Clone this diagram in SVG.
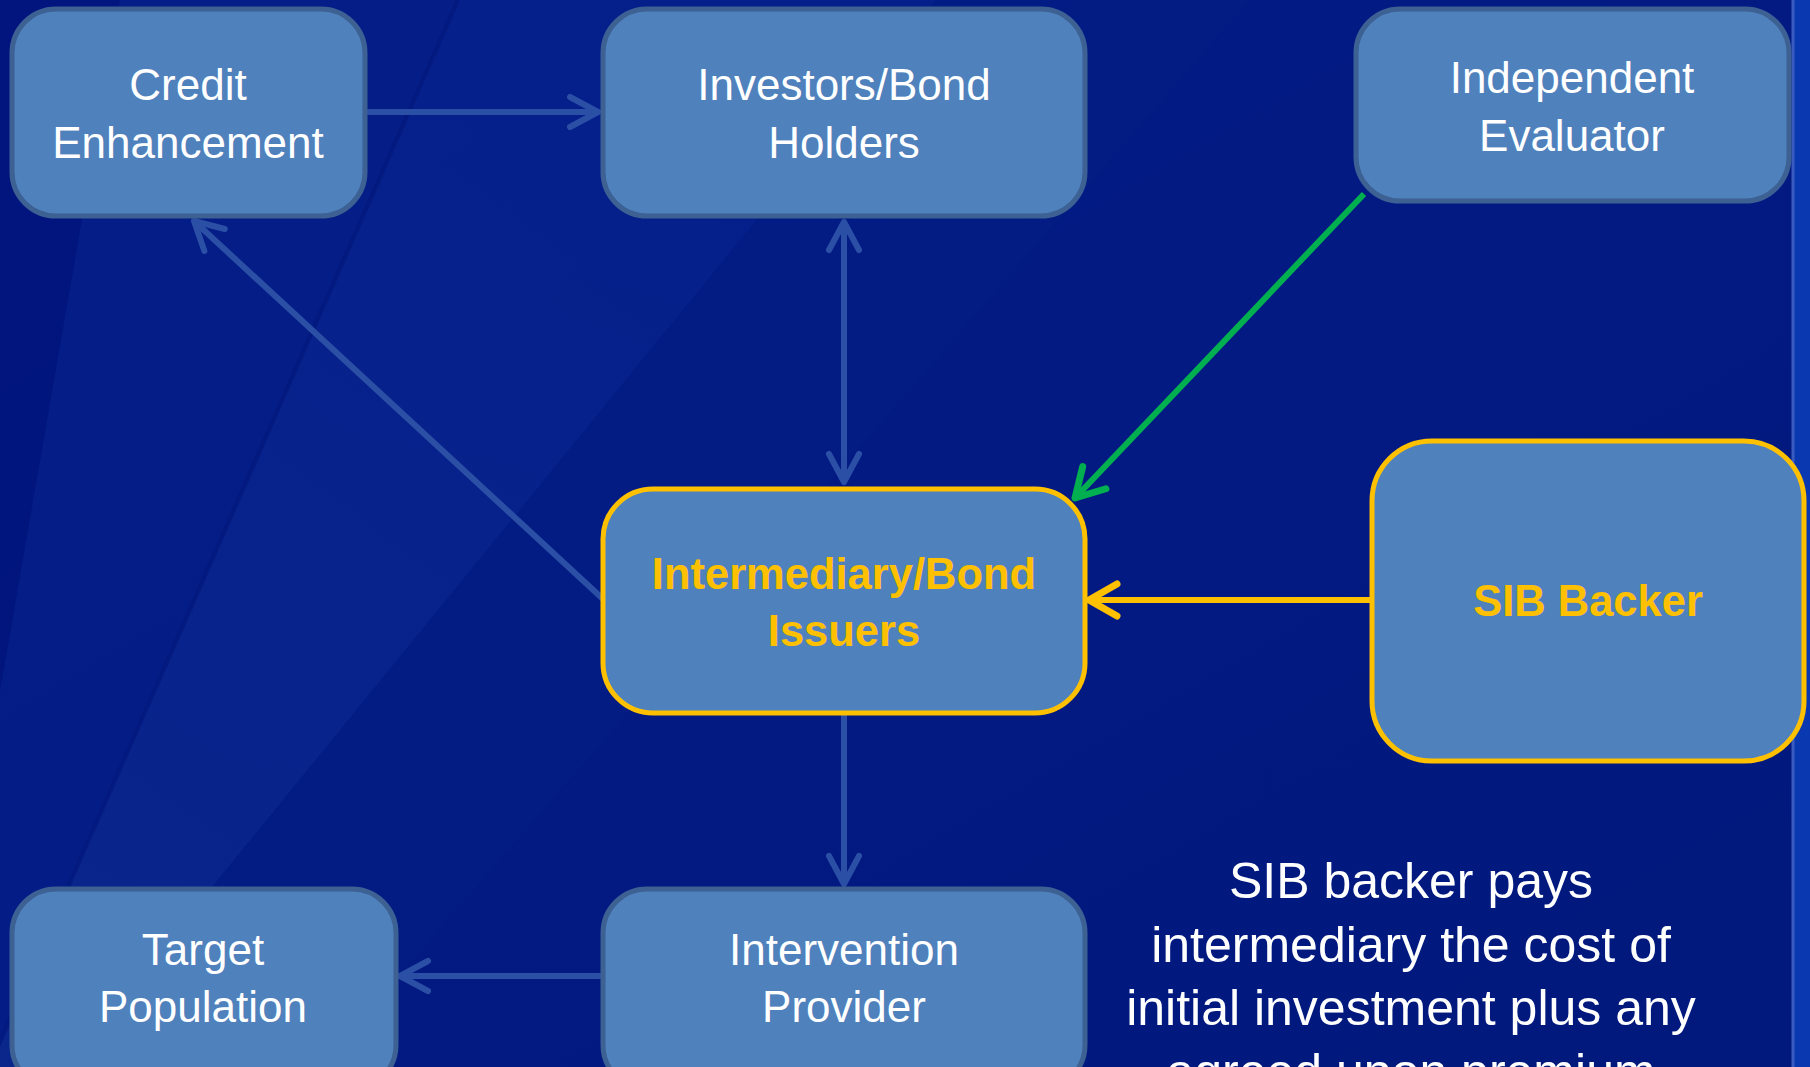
<svg xmlns="http://www.w3.org/2000/svg" width="1810" height="1067" viewBox="0 0 1810 1067">
  <defs>
    <linearGradient id="bg" x1="0" y1="0" x2="1" y2="1">
      <stop offset="0" stop-color="#031a86"/>
      <stop offset="0.5" stop-color="#021a82"/>
      <stop offset="1" stop-color="#01187c"/>
    </linearGradient>
    <linearGradient id="band" x1="0" y1="1" x2="0.6" y2="0">
      <stop offset="0" stop-color="#0c2a8e" stop-opacity="0.8"/>
      <stop offset="1" stop-color="#0a2794" stop-opacity="0.4"/>
    </linearGradient>
    <marker id="arrBlue" viewBox="-36 -22 42 44" refX="0" refY="0" markerWidth="42" markerHeight="44" markerUnits="userSpaceOnUse" orient="auto-start-reverse">
      <path d="M -28 -15 L 0 0 L -28 15" fill="none" stroke="#2c4fa6" stroke-width="6" stroke-linecap="round" stroke-linejoin="round"/>
    </marker>
    <marker id="arrGreen" viewBox="-36 -22 42 44" refX="0" refY="0" markerWidth="42" markerHeight="44" markerUnits="userSpaceOnUse" orient="auto">
      <path d="M -28 -16 L 0 0 L -28 16" fill="none" stroke="#00b050" stroke-width="7" stroke-linecap="round" stroke-linejoin="round"/>
    </marker>
    <marker id="arrYellow" viewBox="-36 -22 42 44" refX="0" refY="0" markerWidth="42" markerHeight="44" markerUnits="userSpaceOnUse" orient="auto">
      <path d="M -28 -16 L 0 0 L -28 16" fill="none" stroke="#ffc000" stroke-width="7" stroke-linecap="round" stroke-linejoin="round"/>
    </marker>
  </defs>
  <style>
    .node { fill: #4f81bd; stroke: #3d6192; stroke-width: 5; }
    .hl { fill: #4f81bd; stroke: #ffc000; stroke-width: 5; }
    .lbl { font-family: "Liberation Sans", Arial, sans-serif; font-size: 44px; fill: #ffffff; text-anchor: middle; }
    .lblY { font-family: "Liberation Sans", Arial, sans-serif; font-size: 43.5px; font-weight: bold; fill: #ffc000; text-anchor: middle; }
    .note { font-family: "Liberation Sans", Arial, sans-serif; font-size: 50px; fill: #ffffff; text-anchor: middle; }
    .conn { fill: none; stroke: #2c4fa6; stroke-width: 6; }
  </style>

  <!-- background -->
  <rect x="0" y="0" width="1810" height="1067" fill="url(#bg)"/>
  <polygon points="0,0 120,0 0,691" fill="#01137a" opacity="0.6"/>
  <polygon points="120,0 458,0 -11,1067 0,1067 0,691" fill="#06208a" opacity="0.5"/>
  <polygon points="458,0 936,0 65,1067 -11,1067" fill="url(#band)"/>
  <line x1="458" y1="0" x2="-11" y2="1067" stroke="#03197f" stroke-width="4" opacity="0.8"/>
  <polygon points="936,0 1250,0 320,1067 65,1067" fill="#0a2690" opacity="0.15"/>
  <rect x="1792" y="0" width="18" height="1067" fill="#0a38b0"/>
  <line x1="1793" y1="0" x2="1793" y2="1067" stroke="#3a5cc0" stroke-width="3"/>

  <!-- connectors -->
  <g id="connectors">
    <line class="conn" x1="366" y1="112" x2="598" y2="112" marker-end="url(#arrBlue)"/>
    <line class="conn" x1="844" y1="222" x2="844" y2="482" marker-start="url(#arrBlue)" marker-end="url(#arrBlue)"/>
    <line class="conn" x1="603" y1="599" x2="194" y2="221" marker-end="url(#arrBlue)"/>
    <line class="conn" x1="844" y1="714" x2="844" y2="884" marker-end="url(#arrBlue)"/>
    <line class="conn" x1="602" y1="976" x2="400" y2="976" marker-end="url(#arrBlue)"/>
    <line x1="1364" y1="194" x2="1075" y2="498" fill="none" stroke="#00b050" stroke-width="6" marker-end="url(#arrGreen)"/>
    <line x1="1371" y1="600" x2="1089" y2="600" fill="none" stroke="#ffc000" stroke-width="6" marker-end="url(#arrYellow)"/>
  </g>

  <!-- nodes -->
  <g id="credit-enhancement">
    <rect class="node" x="12" y="9" width="353" height="207" rx="44"/>
    <text class="lbl" x="188" y="100">Credit</text>
    <text class="lbl" x="188" y="158">Enhancement</text>
  </g>
  <g id="investors">
    <rect class="node" x="603" y="9" width="482" height="207" rx="44"/>
    <text class="lbl" x="844" y="100">Investors/Bond</text>
    <text class="lbl" x="844" y="158">Holders</text>
  </g>
  <g id="independent-evaluator">
    <rect class="node" x="1356" y="9" width="433" height="192" rx="44"/>
    <text class="lbl" x="1572" y="93">Independent</text>
    <text class="lbl" x="1572" y="151">Evaluator</text>
  </g>
  <g id="intermediary">
    <rect class="hl" x="603" y="489" width="482" height="224" rx="50"/>
    <text class="lblY" x="844" y="589">Intermediary/Bond</text>
    <text class="lblY" x="844" y="646">Issuers</text>
  </g>
  <g id="sib-backer">
    <rect class="hl" x="1372" y="441" width="432" height="320" rx="60"/>
    <text class="lblY" x="1588" y="616">SIB Backer</text>
  </g>
  <g id="target-population">
    <rect class="node" x="12" y="889" width="384" height="200" rx="44"/>
    <text class="lbl" x="203" y="965">Target</text>
    <text class="lbl" x="203" y="1022">Population</text>
  </g>
  <g id="intervention-provider">
    <rect class="node" x="603" y="889" width="482" height="200" rx="44"/>
    <text class="lbl" x="844" y="965">Intervention</text>
    <text class="lbl" x="844" y="1022">Provider</text>
  </g>

  <!-- note -->
  <g id="note">
    <text class="note" x="1411" y="898">SIB backer pays</text>
    <text class="note" x="1411" y="962">intermediary the cost of</text>
    <text class="note" x="1411" y="1025">initial investment plus any</text>
    <text class="note" x="1411" y="1089">agreed upon premium</text>
  </g>
</svg>
